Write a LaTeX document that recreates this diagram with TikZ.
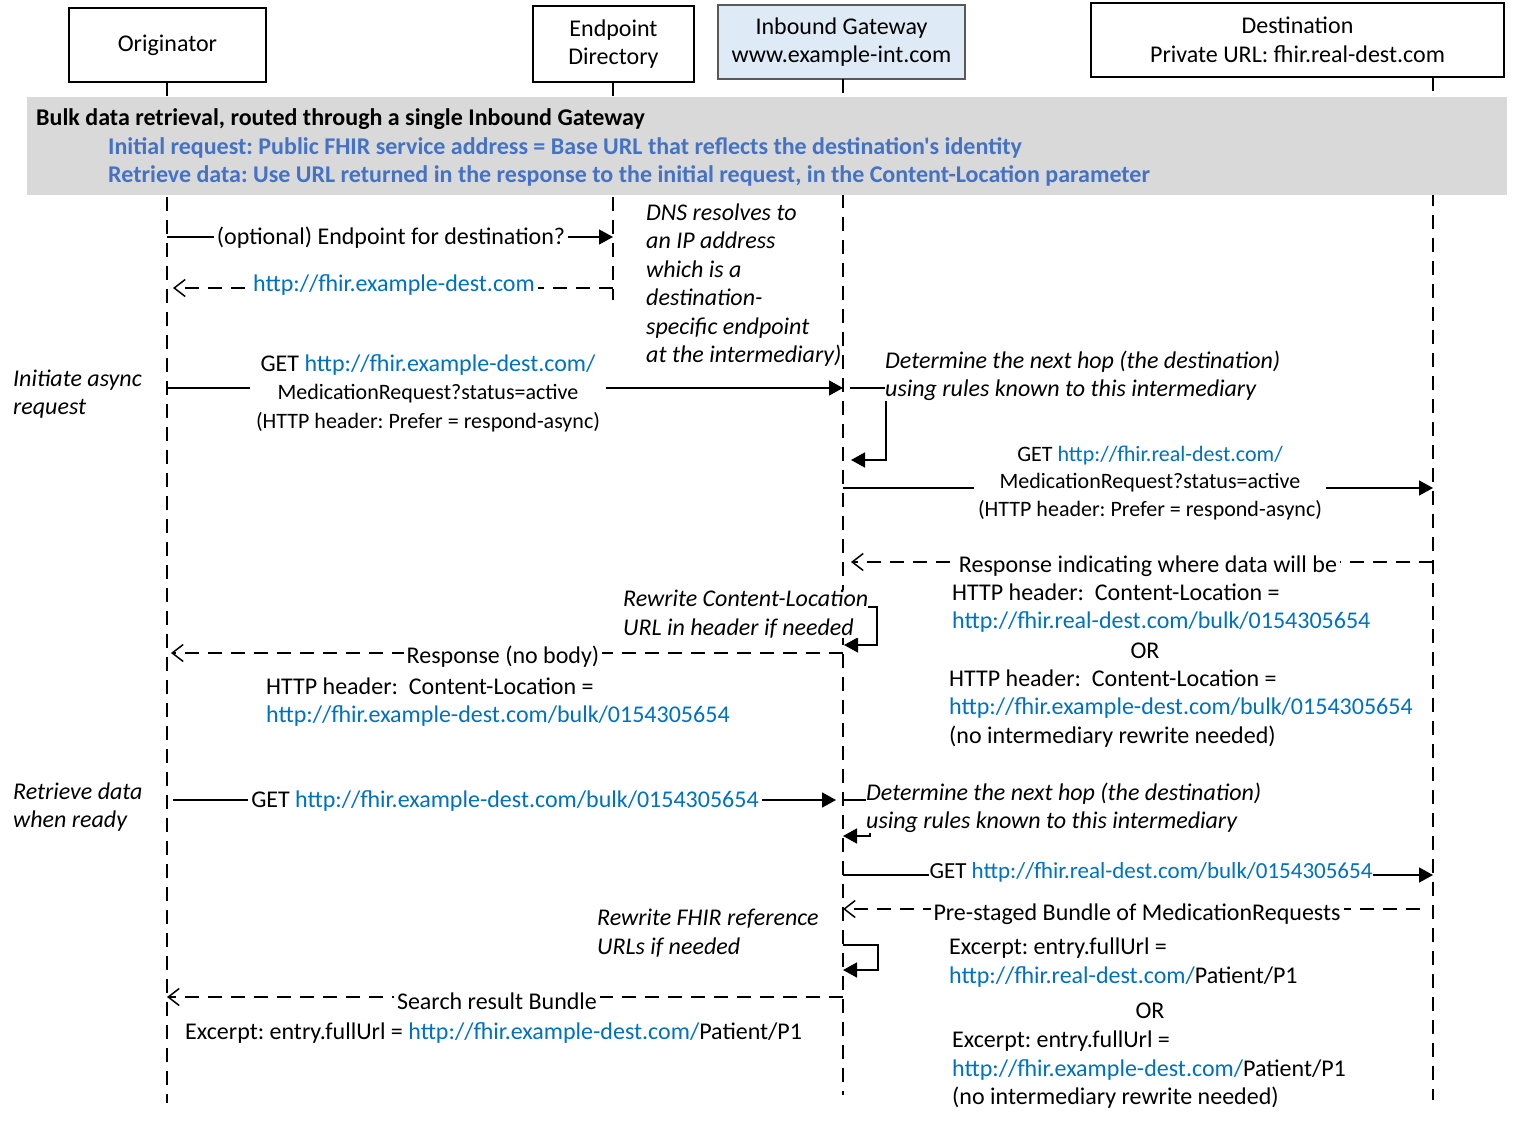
\documentclass[tikz,border=0pt]{standalone}
\usepackage{fontspec}
\setmainfont{Carlito}[Ligatures=TeXOff]
\usetikzlibrary{arrows.meta}
\definecolor{urlblue}{HTML}{0070C0}
\definecolor{bandblue}{HTML}{4472C4}
\definecolor{bandgray}{HTML}{D9D9D9}
\definecolor{gwfill}{HTML}{DEEBF7}
\newcommand{\lnk}[1]{\textcolor{urlblue}{#1}}
\newcommand{\smallsz}{\fontsize{22}{27.5}\selectfont}
\frenchspacing

\begin{document}
\begin{tikzpicture}[x=1pt,y=-1pt,
  font=\fontsize{24}{28.5}\selectfont,
  actor/.style={draw, line width=1.2pt, fill=white, align=center, inner sep=0pt},
  life/.style={line width=1.4pt, dash pattern=on 14pt off 9pt},
  msg/.style={line width=1.5pt, -{Triangle[length=14pt,width=15pt]}},
  reply/.style={line width=1.5pt, dash pattern=on 14pt off 9pt,
    -{Straight Barb[length=11pt,width=17pt,line width=1.5pt]}},
  lbl/.style={fill=white, inner xsep=3pt, inner ysep=0pt, align=center},
  note/.style={font=\fontsize{24}{28.5}\selectfont\itshape, align=left,
    inner sep=0pt, anchor=west},
  txt/.style={align=left, inner sep=0pt, anchor=west},
  band/.style={txt, font=\fontsize{24}{28.5}\selectfont\bfseries},
]
\useasboundingbox (0,0) rectangle (1514,1123);

% participants
\node[actor, minimum width=197pt, minimum height=74pt] (orig) at (167.5,45) {Originator};
\node[actor, minimum width=161pt, minimum height=76pt] (epd) at (613.5,44) {Endpoint\\Directory};
\node[actor, fill=gwfill, draw=black!65, line width=1.6pt, minimum width=247pt, minimum height=74pt]
  (gw) at (841.5,42) {Inbound Gateway\\www.example-int.com};
\node[actor, minimum width=413pt, minimum height=74pt] (dest) at (1297.5,40)
  {Destination\\Private URL: fhir.real-dest.com};

% lifelines
\coordinate (oL) at (167,82);  \coordinate (oE) at (167,1103);
\coordinate (eL) at (613,82);  \coordinate (eE) at (613,300);
\coordinate (gL) at (843,79);  \coordinate (gE) at (843,1095);
\coordinate (dL) at (1433,77); \coordinate (dE) at (1433,1100);
\draw[life] (oL) -- (oE);
\draw[life] (eL) -- (eE);
\draw[life] (gL) -- (gE);
\draw[life] (dL) -- (dE);

% heading band
\fill[bandgray] (27,97) rectangle (1507,195);
\node[band] (title) at (36,119)
  {Bulk data retrieval, routed through a single Inbound Gateway};
\node[band, text=bandblue] (sub1) at (108,148)
  {Initial request: Public FHIR service address = Base URL that reflects the destination's identity};
\node[band, text=bandblue] (sub2) at (108,176)
  {Retrieve data: Use URL returned in the response to the initial request, in the Content-Location parameter};

% endpoint lookup
\draw[msg] (oL |- 0,237) -- (eL |- 0,237)
  node[lbl] (m1) at (391,238) {(optional) Endpoint for destination?};
\draw[reply, shorten >=6pt] (eL |- 0,288) -- (oL |- 0,288)
  node[lbl] (m2) at (394,285) {\lnk{http://fhir.example-dest.com}};

\node[note] (dns) at (646,285) {DNS resolves to\\an IP address\\which is a\\destination-\\specific endpoint\\at the intermediary)};

% initial request
\node[note] (init) at (13,394) {Initiate async\\request};
\draw[msg] (oL |- 0,388) -- (gL |- 0,388)
  node[lbl, inner xsep=6pt] (m3) at (428,393)
  {GET \lnk{http://fhir.example-dest.com/}\\{\smallsz MedicationRequest?status=active}\\{\smallsz (HTTP header: Prefer = respond-async)}};

\draw[msg] ([xshift=7pt]gL |- 0,388) -- (886,388) -- (886,460) -- ([xshift=8pt]gL |- 0,460);
\node[note, fill=white] (hop1) at (885,376)
  {Determine the next hop (the destination)\\using rules known to this intermediary};

\draw[msg] (gL |- 0,488) -- (dL |- 0,488)
  node[lbl, inner xsep=4pt, font=\smallsz] (m4) at (1150,483)
  {GET \lnk{http://fhir.real-dest.com/}\\MedicationRequest?status=active\\(HTTP header: Prefer = respond-async)};

% response with content location
\draw[reply, shorten >=8pt] (dL |- 0,562) -- (gL |- 0,562)
  node[lbl] (m5) at (1148,566) {Response indicating where data will be};
\node[txt] (cl1) at (952,608) {HTTP header:~ Content-Location =\\\lnk{http://fhir.real-dest.com/bulk/0154305654}};
\node[inner sep=0pt] (or1) at (1145,651) {OR};
\node[txt] (cl2) at (949,708.5) {HTTP header:~ Content-Location =\\\lnk{http://fhir.example-dest.com/bulk/0154305654}\\(no intermediary rewrite needed)};

\draw[msg] (gL |- 0,607) -- (877,607) -- (877,645) -- ([xshift=1pt]gL |- 0,645);
\node[note, fill=white] (rw1) at (623,614) {Rewrite Content-Location\\URL in header if needed};

\draw[reply, shorten >=4pt] (gL |- 0,653) -- (oL |- 0,653)
  node[lbl] (m6) at (503,657) {Response (no body)};
\node[txt] (cl3) at (266,702) {HTTP header:~ Content-Location =\\\lnk{http://fhir.example-dest.com/bulk/0154305654}};

% data retrieval
\node[note] (retr) at (13,807) {Retrieve data\\when ready};
\draw[msg, shorten <=6pt, shorten >=7pt] (oL |- 0,800) -- (gL |- 0,800)
  node[lbl] (m7) at (505,801) {GET \lnk{http://fhir.example-dest.com/bulk/0154305654}};

\draw[msg] (gL |- 0,800) -- (870,800) -- (870,836) -- (gL |- 0,836);
\node[note, fill=white] (hop2) at (866,808)
  {Determine the next hop (the destination)\\using rules known to this intermediary};

\draw[msg] (gL |- 0,875) -- (dL |- 0,875)
  node[lbl, inner xsep=1pt, font=\fontsize{23}{28}\selectfont] (m8) at (1151,872)
  {GET \lnk{http://fhir.real-dest.com/bulk/0154305654}};
\draw[reply, shorten <=13pt] (dL |- 0,909) -- (gL |- 0,909)
  node[lbl] (m9) at (1137,914) {Pre-staged Bundle of MedicationRequests};

\node[note] (rw2) at (597,933) {Rewrite FHIR reference\\URLs if needed};
\draw[msg] (gL |- 0,945) -- (878,945) -- (878,970) -- (gL |- 0,970);

\node[txt] (ex1) at (949,962.5) {Excerpt: entry.fullUrl =\\\lnk{http://fhir.real-dest.com/}Patient/P1};
\node[inner sep=0pt] (or2) at (1150,1011) {OR};
\node[txt] (ex2) at (952,1070) {Excerpt: entry.fullUrl =\\\lnk{http://fhir.example-dest.com/}Patient/P1\\(no intermediary rewrite needed)};

\draw[reply] (gL |- 0,997) -- (oL |- 0,997)
  node[lbl] (m10) at (497,1001) {Search result Bundle};
\node[txt] (ex3) at (185,1033) {Excerpt: entry.fullUrl = \lnk{http://fhir.example-dest.com/}Patient/P1};
\end{tikzpicture}
\end{document}
